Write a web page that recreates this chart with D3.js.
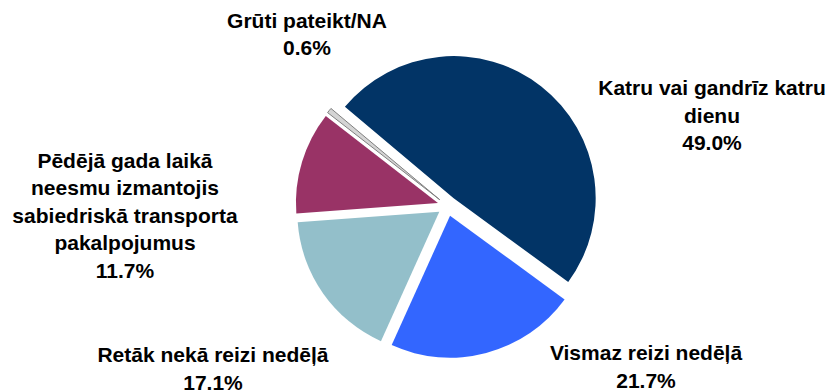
<!DOCTYPE html>
<html>
<head>
<meta charset="utf-8">
<script src="https://cdn.jsdelivr.net/npm/d3@7"></script>
<style>
  html, body { margin: 0; padding: 0; background: #ffffff; }
  svg { display: block; }
  .lbl { font-family: "Liberation Sans", Arial, sans-serif; font-weight: bold; font-size: 21px; fill: #000; }
</style>
</head>
<body>
<svg id="chart" width="830" height="392"></svg>
<script>
// Survey answers: how often public transport is used
const categories = [
  "Katru vai gandrīz katru dienu",
  "Vismaz reizi nedēļā",
  "Retāk nekā reizi nedēļā",
  "Pēdējā gada laikā neesmu izmantojis sabiedriskā transporta pakalpojumus",
  "Grūti pateikt/NA"
];
const values = [49.0, 21.7, 17.1, 11.7, 0.6];

// Line breaks used for each category label
const labelLines = [
  ["Katru vai gandrīz katru", "dienu"],
  ["Vismaz reizi nedēļā"],
  ["Retāk nekā reizi nedēļā"],
  ["Pēdējā gada laikā", "neesmu izmantojis", "sabiedriskā transporta", "pakalpojumus"],
  ["Grūti pateikt/NA"]
];

// Styling and layout
const colors = ["#023466", "#3366ff", "#93bfca", "#993366", "#d4d4d4"];
const strokes = [null, null, null, null, "#808080"];
const labelAnchors = [ // [center x, first baseline y]
  [712, 95], [646, 360], [213, 362], [125, 167.5], [307, 27.5]
];
const lineHeight = 27.5;

const cx = 447.5, cy = 206, radius = 142, explode = 10;
const startDeg = -50;

const svg = d3.select("#chart");
const g = svg.append("g").attr("transform", `translate(${cx},${cy})`);

const pie = d3.pie()
  .sort(null)
  .value(d => d)
  .startAngle(startDeg * Math.PI / 180)
  .endAngle(startDeg * Math.PI / 180 + 2 * Math.PI);

const arc = d3.arc().innerRadius(0).outerRadius(radius);
const arcs = pie(values);

g.selectAll("path.slice")
  .data(arcs)
  .join("path")
  .attr("class", "slice")
  .attr("d", arc)
  .attr("fill", (d, i) => colors[i])
  .attr("stroke", (d, i) => strokes[i] || "none")
  .attr("stroke-width", 1)
  .attr("transform", d => {
    const mid = (d.startAngle + d.endAngle) / 2;
    return `translate(${Math.sin(mid) * explode},${-Math.cos(mid) * explode})`;
  });

const fmt = d3.format(".1f");
const labels = svg.selectAll("text.lbl")
  .data(arcs)
  .join("text")
  .attr("class", "lbl")
  .attr("text-anchor", "middle")
  .attr("x", (d, i) => labelAnchors[i][0])
  .attr("y", (d, i) => labelAnchors[i][1]);

labels.each(function(d, i) {
  const t = d3.select(this);
  const lines = labelLines[i].concat([fmt(d.data) + "%"]);
  lines.forEach((ln, k) => {
    t.append("tspan")
      .attr("x", labelAnchors[i][0])
      .attr("dy", k === 0 ? 0 : lineHeight)
      .text(ln);
  });
});
</script>
</body>
</html>
